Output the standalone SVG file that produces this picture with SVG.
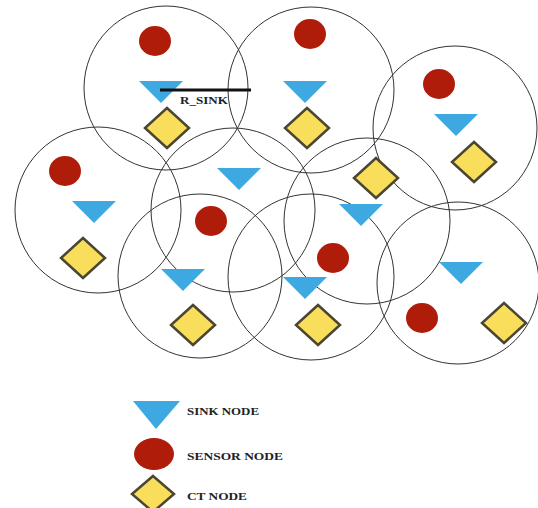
<svg xmlns="http://www.w3.org/2000/svg" width="538" height="508" viewBox="0 0 538 508">
<defs>
<style>
.rng{fill:none;stroke:#333;stroke-width:1}
.sink{fill:#3DA9E0}
.sensor{fill:#B01C0A}
.ct{fill:#F9DE5C;stroke:#4a4632;stroke-width:2.5;stroke-linejoin:miter}
.lbl{font-family:"Liberation Serif",serif;font-weight:bold;fill:#222}
</style>
<path id="tri" d="M-22,0 L22,0 L0,22 Z"/>
<path id="dia" d="M0,-20 L22,0 L0,20 L-22,0 Z"/>
</defs>
<rect width="538" height="508" fill="#fff"/>
<g id="ranges">
<circle class="rng" cx="166" cy="88" r="82"/>
<circle class="rng" cx="311" cy="90" r="83"/>
<circle class="rng" cx="455" cy="128" r="82"/>
<circle class="rng" cx="98" cy="210" r="83"/>
<circle class="rng" cx="233" cy="210" r="82"/>
<circle class="rng" cx="367" cy="221" r="83"/>
<circle class="rng" cx="200" cy="276" r="82"/>
<circle class="rng" cx="311" cy="277" r="83"/>
<circle class="rng" cx="458" cy="283" r="81"/>
</g>
<g id="cell1">
<ellipse class="sensor" cx="155" cy="41" rx="16" ry="15"/>
<use href="#tri" class="sink" x="161" y="81"/>
<use href="#dia" class="ct" x="167" y="128"/>
</g>
<g id="cell2">
<ellipse class="sensor" cx="310" cy="34" rx="16" ry="15"/>
<use href="#tri" class="sink" x="305" y="81"/>
<use href="#dia" class="ct" x="307" y="128"/>
</g>
<g id="cell3">
<ellipse class="sensor" cx="439" cy="84" rx="16" ry="15"/>
<use href="#tri" class="sink" x="456" y="114"/>
<use href="#dia" class="ct" x="474" y="162"/>
</g>
<g id="cell4">
<ellipse class="sensor" cx="65" cy="171" rx="16" ry="15"/>
<use href="#tri" class="sink" x="94" y="201"/>
<use href="#dia" class="ct" x="83" y="258"/>
</g>
<g id="cell5">
<use href="#tri" class="sink" x="239" y="168"/>
<ellipse class="sensor" cx="211" cy="221" rx="16" ry="15"/>
</g>
<g id="cell6">
<use href="#dia" class="ct" x="376" y="178"/>
<use href="#tri" class="sink" x="361" y="204"/>
<ellipse class="sensor" cx="333" cy="258" rx="16" ry="15"/>
</g>
<g id="cell7">
<use href="#tri" class="sink" x="183" y="269"/>
<use href="#dia" class="ct" x="193" y="325"/>
</g>
<g id="cell8">
<use href="#tri" class="sink" x="305" y="277"/>
<use href="#dia" class="ct" x="318" y="325"/>
</g>
<g id="cell9">
<use href="#tri" class="sink" x="461" y="262"/>
<ellipse class="sensor" cx="422" cy="318" rx="16" ry="15"/>
<use href="#dia" class="ct" x="504" y="323"/>
</g>
<g id="connectors">
<line x1="160" y1="90" x2="251" y2="90" stroke="#111" stroke-width="3"/>
<text class="lbl" x="180" y="104" font-size="11" textLength="48" lengthAdjust="spacingAndGlyphs">R_SINK</text>
</g>
<g id="legend">
<path class="sink" d="M133,401 L180,401 L156,429 Z"/>
<text class="lbl" x="187" y="415" font-size="11" textLength="72" lengthAdjust="spacingAndGlyphs">SINK NODE</text>
<ellipse class="sensor" cx="154" cy="454" rx="20" ry="16"/>
<text class="lbl" x="187" y="460" font-size="11" textLength="96" lengthAdjust="spacingAndGlyphs">SENSOR NODE</text>
<path class="ct" d="M153,476 L174,494 L153,512 L132,494 Z"/>
<text class="lbl" x="187" y="500" font-size="11" textLength="60" lengthAdjust="spacingAndGlyphs">CT NODE</text>
</g>
</svg>
